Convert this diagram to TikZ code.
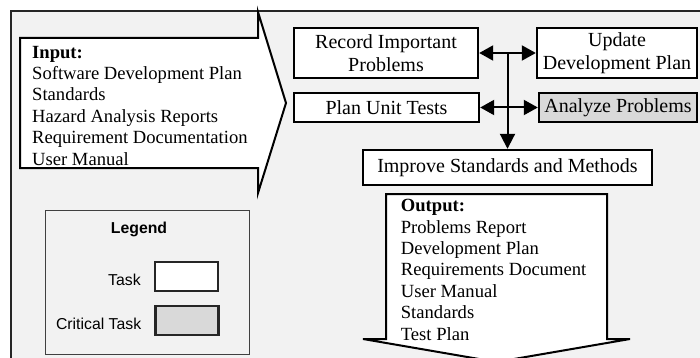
\documentclass[tikz,border=0pt]{standalone}
\usepackage{fontspec}
\setmainfont{Liberation Serif}
\newfontfamily\arialfont{Liberation Sans}
\usetikzlibrary{arrows.meta}
\definecolor{bg}{HTML}{F2F2F2}
\definecolor{critgray}{HTML}{D9D9D9}
\begin{document}
\begin{tikzpicture}[x=1pt,y=-1pt,
  task/.style={draw=black, line width=2.4pt, fill=white, inner sep=0pt, align=center,
    font=\fontsize{20}{23.3}\selectfont},
  crit/.style={task, fill=critgray},
  flow/.style={line width=2pt, {Triangle[length=14pt,width=15pt]}-{Triangle[length=14pt,width=15pt]}},
  down/.style={line width=2pt, -{Triangle[length=15pt,width=15pt]}},
  bigarrow/.style={draw=black, line width=2pt, fill=white, line join=miter},
  listtext/.style={align=left, inner sep=0pt, font=\fontsize{18.6}{21.4}\selectfont},
  legtext/.style={inner sep=0pt, font=\arialfont\fontsize{15.8}{18}\selectfont},
  legbox/.style={draw=black!85, line width=2.2pt, inner sep=0pt, minimum width=63pt, minimum height=29pt},
]
\clip (0,0) rectangle (700,358);
% outer frame
\draw[fill=bg, draw=black!85, line width=2pt] (11,11) rectangle (720,380);

% input arrow
\draw[bigarrow] (20,38) -- (258,38) -- (258,12) -- (286,103) -- (258,193) -- (258,168) -- (20,168) -- cycle;
\node[listtext, anchor=base west] (input) at (32,165)
  {\textbf{Input:}\\Software Development Plan\\Standards\\Hazard Analysis Reports\\Requirement Documentation\\User Manual};

% task boxes
\node[task, minimum width=184pt, minimum height=50pt] (record) at (386,53) {Record Important\\Problems};
\node[task, minimum width=160pt, minimum height=50pt] (update) at (617,53) {Update\\Development Plan};
\node[task, minimum width=185pt, minimum height=29pt] (plan) at (386.5,107.5) {Plan Unit Tests};
\node[crit, minimum width=158pt, minimum height=29pt] (analyze) at (618,107.5) {Analyze Problems};
\node[task, minimum width=289pt, minimum height=35pt] (improve) at (507.5,167.5) {Improve Standards and Methods};

% connectors
\draw[flow] (record.east) -- (update.west);
\draw[flow] (plan.east) -- (analyze.west);
\draw[down] (record.east -| improve.north) -- (improve.north);

% output arrow
\draw[bigarrow] (386,194) -- (607,194) -- (607,339) -- (630,339) -- (496.5,362) -- (363,339) -- (386,339) -- cycle;
\node[listtext, anchor=base west] (output) at (400.7,340)
  {\textbf{Output:}\\Problems Report\\Development Plan\\Requirements Document\\User Manual\\Standards\\Test Plan};

% legend
\node[draw=black!75, line width=0.8pt, fill=bg, minimum width=204pt, minimum height=144pt, inner sep=0pt] (legend) at (147,282) {};
\node[legtext, font=\arialfont\bfseries\fontsize{15.8}{18}\selectfont] (legtitle) at (139,229) {Legend};
\node[legbox, fill=white] (taskbox) at (186.5,276.5) {};
\node[legbox, fill=critgray] (critbox) at (187,320.5) {};
\node[legtext, anchor=east] (tasklabel) at ([xshift=-13pt,yshift=-3pt]taskbox.west) {Task};
\node[legtext, anchor=east] (critlabel) at ([xshift=-13pt,yshift=-3pt]critbox.west) {Critical Task};
\end{tikzpicture}
\end{document}
